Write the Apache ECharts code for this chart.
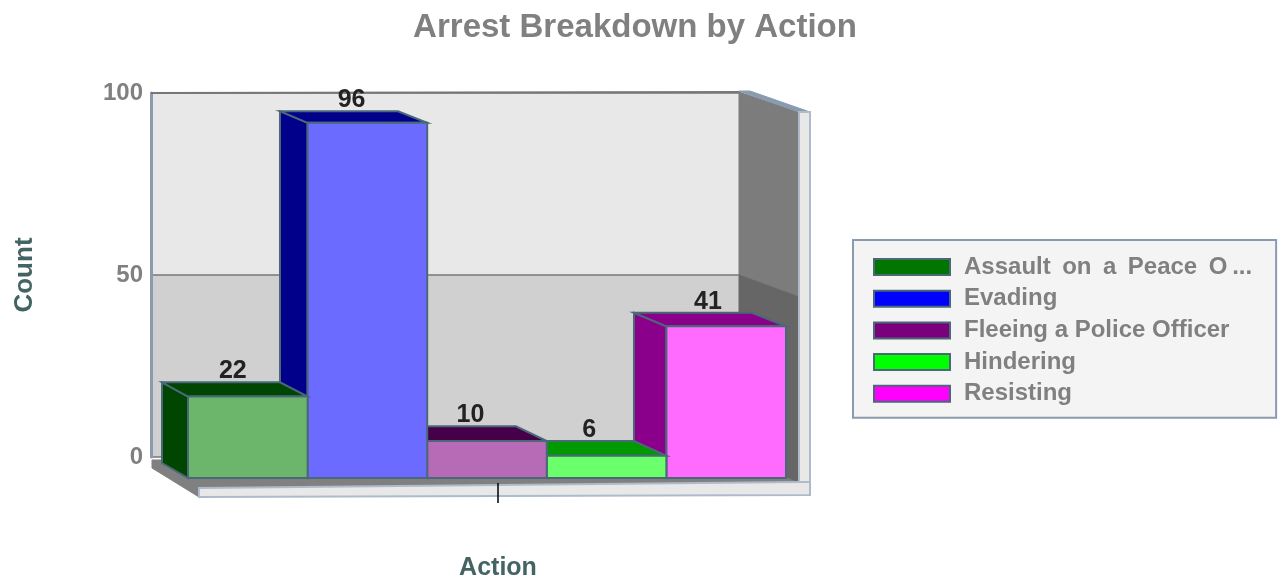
<!DOCTYPE html>
<html>
<head>
<meta charset="utf-8">
<script src="https://cdn.jsdelivr.net/npm/echarts@6/dist/echarts.min.js"></script>
<style>
html, body { margin: 0; padding: 0; background: #fff; }
#chart-container { width: 1288px; height: 586px; }
</style>
</head>
<body>
<div id="chart-container"></div>
<script>
var actions = ['Assault \u2009on \u2009a \u2009Peace \u2009O\u2009...', 'Evading', 'Fleeing a Police Officer', 'Hindering', 'Resisting'];
var counts = [22, 96, 10, 6, 41];
var yTicks = [0, 50, 100];

var legendColors = ['#007500', '#0000ff', '#7b007b', '#00ff00', '#ff00ff'];
var faceColors = ['#6cb66c', '#6b6bff', '#b76bb7', '#6bff6b', '#ff6bff'];
var topColors = ['#004500', '#00008b', '#46004a', '#009900', '#8b008b'];

var FONT = '"Liberation Sans", Arial, sans-serif';
var EDGE = '#4a6878';
var FRAME = '#8a9bb0';

var dom = document.getElementById('chart-container');
var myChart = echarts.init(dom, null, { renderer: 'canvas' });

// the fake 3d depth gets a bit bigger to the right and to the bottom
function depthX(x) { return 26 + (x - 188) * 0.0134; }
function depthY(y) { return 11.6 + (y - 123) * 0.0096; }

function renderBar(params, api) {
    var i = params.seriesIndex;
    var top = api.coord([api.value(0), api.value(1)]);
    var base = api.coord([api.value(0), 0]);
    var slot = api.size([1, 0])[0] / actions.length;
    var x0 = top[0] - slot * actions.length / 2 + slot * i;
    var x1 = x0 + slot;
    var y0 = top[1];
    var y1 = base[1];
    var back = function (x, y) { return [x - depthX(x), y - depthY(y)]; };
    var edge = { stroke: EDGE, lineWidth: 2 };
    var backTop = back(x0, y0);
    var backTopRight = back(x1, y0);
    return {
        type: 'group',
        children: [
            {
                type: 'polygon',
                shape: { points: [[x0, y1], [x0, y0], backTop, back(x0, y1)] },
                style: Object.assign({ fill: topColors[i] }, edge)
            },
            {
                type: 'polygon',
                shape: { points: [[x0, y0], [x1, y0], backTopRight, backTop] },
                style: Object.assign({ fill: topColors[i] }, edge)
            },
            {
                type: 'rect',
                shape: { x: x0, y: y0, width: slot, height: y1 - y0 },
                style: Object.assign({ fill: faceColors[i] }, edge)
            },
            {
                type: 'text',
                style: {
                    x: (backTop[0] + x1) / 2 - 2,
                    y: backTop[1] - 11,
                    text: String(api.value(1)),
                    fill: '#222',
                    font: 'bold 25px ' + FONT,
                    align: 'center',
                    verticalAlign: 'middle'
                }
            }
        ]
    };
}

var series = actions.map(function (name, i) {
    return {
        name: name,
        type: 'custom',
        xAxisIndex: 1,
        yAxisIndex: 1,
        z: 10 - i,
        clip: false,
        renderItem: renderBar,
        itemStyle: { color: legendColors[i] },
        data: [[0, counts[i]]]
    };
});

function wall(points, fill, stroke, z) {
    return {
        type: 'polygon',
        z: z || 1,
        shape: { points: points },
        style: { fill: fill, stroke: stroke || fill, lineWidth: stroke ? 2 : 1 }
    };
}

var option = {
    animation: false,
    title: {
        text: 'Arrest Breakdown by Action',
        left: 630,
        top: 6,
        textAlign: 'center',
        textStyle: { color: '#808080', fontFamily: FONT, fontWeight: 'bold', fontSize: 33 }
    },
    legend: {
        orient: 'vertical',
        left: 853,
        top: 240,
        backgroundColor: '#f4f4f4',
        borderColor: FRAME,
        borderWidth: 2,
        padding: [14, 24, 11, 20],
        itemWidth: 76,
        itemHeight: 16,
        itemGap: 5.7,
        selectedMode: false,
        textStyle: {
            color: '#808080',
            fontFamily: FONT,
            fontWeight: 'bold',
            fontSize: 24,
            lineHeight: 26,
            padding: [0, 0, 0, 9]
        },
        data: actions.map(function (name, i) {
            return { name: name, icon: 'rect', itemStyle: { color: legendColors[i], borderColor: EDGE, borderWidth: 2 } };
        })
    },
    grid: [
        { left: 151, top: 93, width: 588, height: 364 },   // back wall
        { left: 188, top: 108, width: 598, height: 370 },  // bars, on the front plane
        { left: 199, top: 383, width: 598, height: 100 }   // front edge, carries the tick
    ],
    xAxis: [
        { gridIndex: 0, type: 'category', data: [''], axisLine: { show: false }, axisTick: { show: false }, axisLabel: { show: false } },
        { gridIndex: 1, type: 'category', data: ['Action'], axisLine: { show: false }, axisTick: { show: false }, axisLabel: { show: false } },
        {
            gridIndex: 2,
            type: 'value',
            min: 0,
            max: 2,
            z: 5,
            name: 'Action',
            nameLocation: 'middle',
            nameGap: 73,
            nameTextStyle: { color: '#446464', fontFamily: FONT, fontWeight: 'bold', fontSize: 25 },
            splitLine: { show: false },
            axisLine: { show: false },
            axisLabel: { show: false },
            axisTick: { show: true, customValues: [1], length: 20, lineStyle: { color: '#000', width: 1.5 } }
        }
    ],
    yAxis: [
        {
            gridIndex: 0,
            type: 'value',
            min: yTicks[0],
            max: yTicks[2],
            interval: yTicks[1],
            name: 'Count',
            nameLocation: 'middle',
            nameGap: 113,
            nameTextStyle: { color: '#446464', fontFamily: FONT, fontWeight: 'bold', fontSize: 26 },
            axisLine: { show: true, lineStyle: { color: FRAME, width: 3 } },
            axisTick: { show: false },
            axisLabel: { margin: 8, color: '#808080', fontFamily: FONT, fontWeight: 'bold', fontSize: 24 },
            splitLine: { show: true, lineStyle: { color: '#777', width: 1.5 } },
            splitArea: { show: true, areaStyle: { color: ['#d0d0d0', '#e8e8e8'] } }
        },
        { gridIndex: 1, type: 'value', min: 0, max: 100, show: false },
        { gridIndex: 2, type: 'value', min: 0, max: 100, show: false }
    ],
    graphic: [
        // floor, side wall and the light rim around them
        wall([[152, 460], [739, 458], [799, 482], [199, 488], [199, 497], [152, 468]], '#808080'),
        wall([[739, 92], [799, 112], [799, 297], [739, 275]], '#7c7c7c'),
        wall([[739, 275], [799, 297], [799, 482], [739, 458]], '#666666'),
        wall([[739, 91], [750, 91], [810, 112], [799, 112]], FRAME),
        wall([[799, 112], [810, 112], [810, 495], [799, 495]], '#e8e8e8', '#aebbca'),
        wall([[199, 488], [799, 482], [810, 482], [810, 495], [199, 497]], '#e8e8e8', '#aebbca'),
        { type: 'line', z: 1, shape: { x1: 151, y1: 93, x2: 739, y2: 92 }, style: { stroke: '#777', lineWidth: 2 } }
    ],
    series: series
};

myChart.setOption(option);
window.addEventListener('resize', myChart.resize);
</script>
</body>
</html>
